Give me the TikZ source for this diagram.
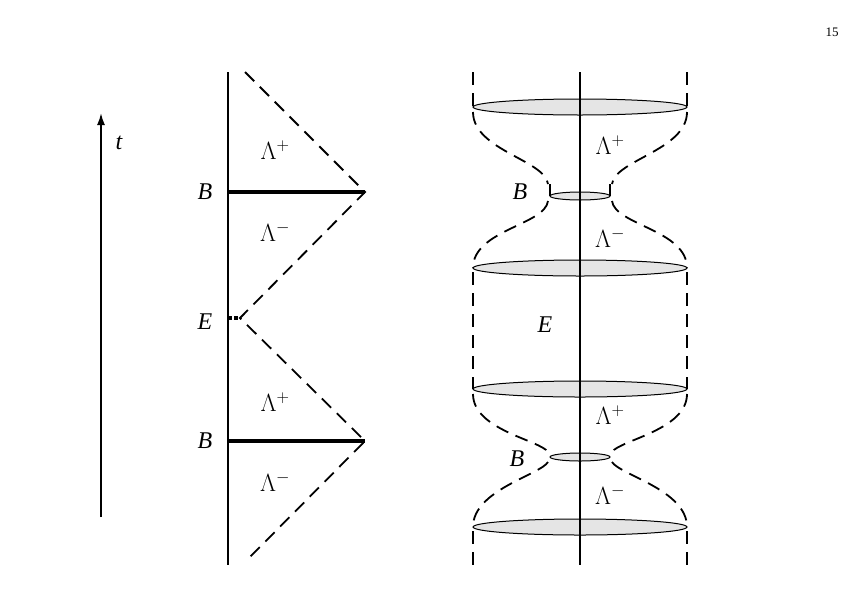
\documentclass[tikz,border=0pt]{standalone}
\usepackage{fontspec}
\setmainfont{Liberation Serif}
\usetikzlibrary{arrows.meta}
\begin{document}
\begin{tikzpicture}[x=1pt,y=-1pt,
 dsh/.style={dash pattern=on 13pt off 8pt,line width=1.8pt},
 ax/.style={line width=1.8pt},
 disc/.style={draw,fill=gray!20,line width=1pt},
 lab/.style={font=\fontsize{24}{24}\selectfont\itshape},
 lam/.style={font=\fontsize{24}{24}\selectfont}]
\useasboundingbox (0,0) rectangle (858,595);
\node[font=\fontsize{13}{13}\selectfont\rmfamily] (pg) at (832,32) {15};
% time arrow
\coordinate (t0) at (101,517); \coordinate (t1) at (101,113);
\draw[ax,-{Latex[length=12pt,width=8pt]}] (t0) -- (t1);
\node[lab] (t) at (119,143) {t};
% left diagram
\coordinate (L0) at (228,72); \coordinate (L1) at (228,565);
\draw[ax] (L0) -- (L1);
\coordinate (B1a) at (228,192); \coordinate (B1b) at (365,192);
\coordinate (B2a) at (228,441); \coordinate (B2b) at (365,441);
\coordinate (Ea) at (228,318); \coordinate (Eb) at (240,318);
\draw[line width=4pt] (B1a) -- (B1b);
\draw[line width=4pt] (B2a) -- (B2b);
\draw[line width=3.5pt,dash pattern=on 4pt off 2pt] (Ea) -- (Eb);
\draw[dsh] (245,72) -- (B1b) -- (Eb) -- (B2b) -- (245,562);
\node[lam] (l1) at (275,150) {$\Lambda^{+}$};
\node[lam] (l2) at (275,232) {$\Lambda^{-}$};
\node[lam] (l3) at (275,402) {$\Lambda^{+}$};
\node[lam] (l4) at (275,482) {$\Lambda^{-}$};
\node[lab] (b1) at (205,192) {B};
\node[lab] (b2) at (205,441) {B};
\node[lab] (e) at (205,322) {E};
% right diagram
\draw[disc] (580,107) ellipse (107 and 8);
\draw[disc] (580,268) ellipse (107 and 8);
\draw[disc] (580,389) ellipse (107 and 8);
\draw[disc] (580,527) ellipse (107 and 8);
\draw[disc] (580,196) ellipse (30 and 4);
\draw[disc] (580,457) ellipse (30 and 4);
\draw[ax] (580,72) -- (580,565);
\foreach \s in {1,-1}{
 \begin{scope}[xshift=580pt,xscale=\s]
 \draw[dsh] (-107,72) -- (-107,107);
 \draw[dsh] (-107,112) .. controls (-107,150) and (-35,160) .. (-32,184);
 \draw[line width=1.8pt] (-30,184) -- (-30,196);
 \draw[dsh] (-32,201) .. controls (-35,225) and (-107,230) .. (-107,268);
 \draw[dsh] (-107,272) -- (-107,389);
 \draw[dsh] (-107,394) .. controls (-107,430) and (-40,440) .. (-32,452);
 \draw[dsh] (-32,462) .. controls (-40,475) and (-107,490) .. (-107,527);
 \draw[dsh] (-107,531) -- (-107,565);
 \end{scope}}
\node[lam] (r1) at (610,145) {$\Lambda^{+}$};
\node[lam] (r2) at (610,238) {$\Lambda^{-}$};
\node[lam] (r3) at (610,415) {$\Lambda^{+}$};
\node[lam] (r4) at (610,495) {$\Lambda^{-}$};
\node[lab] (rb1) at (520,192) {B};
\node[lab] (rb2) at (517,459) {B};
\node[lab] (re) at (545,325) {E};
\end{tikzpicture}
\end{document}
